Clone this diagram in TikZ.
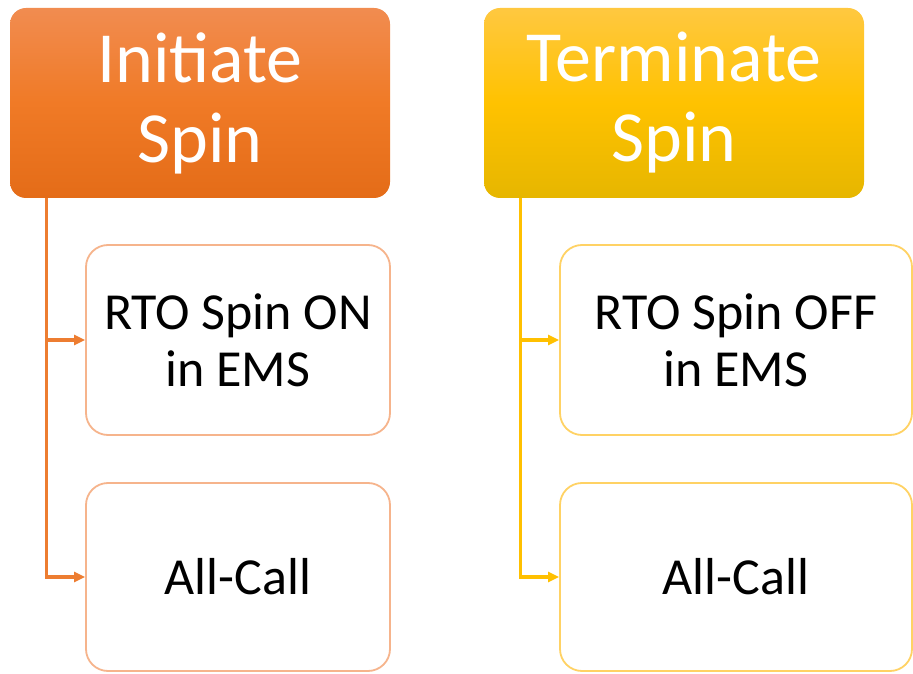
\documentclass[tikz,border=0pt]{standalone}
\usepackage{fontspec}
\setmainfont{Carlito}
\usetikzlibrary{arrows.meta}
\definecolor{orTop}{RGB}{241,140,80}
\definecolor{orMid}{RGB}{240,122,38}
\definecolor{orBot}{RGB}{228,108,24}
\definecolor{orLine}{RGB}{237,125,49}
\definecolor{orEdge}{RGB}{246,180,140}
\definecolor{yeTop}{RGB}{255,200,64}
\definecolor{yeMid}{RGB}{255,194,0}
\definecolor{yeBot}{RGB}{230,182,0}
\definecolor{yeLine}{RGB}{255,192,0}
\definecolor{yeEdge}{RGB}{255,210,100}
\tikzset{
    head/.style={rounded corners=16pt, minimum width=380pt, minimum height=190pt,
        text=white, align=center, font=\fontsize{72}{80}\selectfont},
    item/.style={draw, line width=1.8pt, rounded corners=22pt, minimum height=190pt,
        fill=white, align=center, font=\fontsize{52}{57}\selectfont},
    link/.style={line width=3.2pt, -{Triangle[length=11pt,width=10pt]}}
}
\begin{document}
\begin{tikzpicture}[x=1pt,y=1pt]
    \useasboundingbox (0,0) rectangle (913,673);
    % headers
    \node[head, top color=orTop, bottom color=orBot, middle color=orMid] (init) at (200,570) {Initiate\\Spin};
    \node[head, top color=yeTop, bottom color=yeBot, middle color=yeMid] (term) at (674,570) {Terminate\\Spin};
    % steps
    \node[item, draw=orEdge, minimum width=304pt] (on) at (238,333) {RTO Spin ON\\in EMS};
    \node[item, draw=orEdge, minimum width=304pt, minimum height=188pt] (oncall) at (238,96) {All-Call};
    \node[item, draw=yeEdge, minimum width=352pt] (off) at (736,333) {RTO Spin OFF\\in EMS};
    \node[item, draw=yeEdge, minimum width=352pt, minimum height=188pt] (offcall) at (736,96) {All-Call};
    % connectors
    \coordinate (initfoot) at ([xshift=37pt]init.south west);
    \coordinate (termfoot) at ([xshift=37pt]term.south west);
    \draw[link, orLine] (initfoot) |- (on.west);
    \draw[link, orLine] (initfoot) |- (oncall.west);
    \draw[link, yeLine] (termfoot) |- (off.west);
    \draw[link, yeLine] (termfoot) |- (offcall.west);
\end{tikzpicture}
\end{document}
